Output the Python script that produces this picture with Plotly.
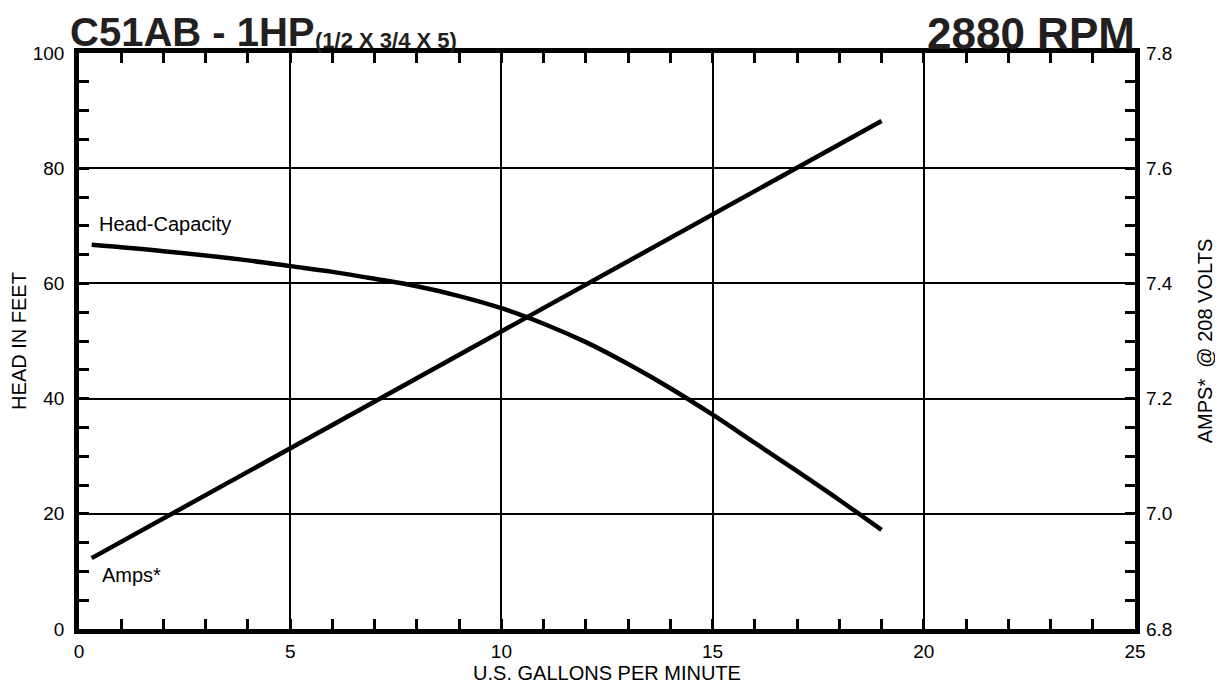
import plotly.graph_objects as go

# Data
head_gpm = [0.3, 2, 4, 5, 6, 7, 8, 9, 10, 11, 12, 13, 14, 15, 16, 17, 18, 19]
head_ft = [66.7, 65.6, 64.0, 63.0, 62.0, 60.8, 59.5, 57.8, 55.7, 53.0, 49.8, 46.0, 41.8, 37.2, 32.3, 27.4, 22.4, 17.2]

amps_gpm = [0.3, 5, 10, 15, 19]
amps = [6.923, 7.114, 7.317, 7.520, 7.682]

x_ticks = [0, 5, 10, 15, 20, 25]
y_ticks = [0, 20, 40, 60, 80, 100]
y2_ticks = [6.8, 7.0, 7.2, 7.4, 7.6, 7.8]

FONT = "Liberation Sans, Arial, Helvetica, sans-serif"
TICK = dict(family=FONT, size=19, color="black")
LAB = dict(family=FONT, size=20, color="black")

fig = go.Figure()
fig.add_trace(go.Scatter(x=head_gpm, y=head_ft, mode="lines", line=dict(color="black", width=4.5, shape="spline"),
                         name="Head-Capacity", showlegend=False, hoverinfo="skip"))
fig.add_trace(go.Scatter(x=amps_gpm, y=amps, mode="lines", line=dict(color="black", width=4.5),
                         name="Amps*", yaxis="y2", showlegend=False, hoverinfo="skip"))

axis_common = dict(
    showline=True, linecolor="black", linewidth=4.5,
    showgrid=True, gridcolor="black", gridwidth=2,
    ticks="inside", ticklen=10, tickwidth=2.5, tickcolor="black",
    tickfont=TICK, automargin=False,
    zeroline=False, mirror="allticks",
)

fig.update_layout(
    width=1215, height=678,
    margin=dict(l=71, r=88, t=45, b=57),
    paper_bgcolor="white", plot_bgcolor="white",
    font=dict(family=FONT, color="black"),
    xaxis=dict(
        range=[0, 25], tickvals=x_ticks, ticktext=[str(v) for v in x_ticks],
        minor=dict(dtick=1, ticks="inside", ticklen=10, tickwidth=2.5, tickcolor="black", showgrid=False),
        title=dict(text="U.S. GALLONS PER MINUTE", font=LAB, standoff=0),
        ticklabelstandoff=1,
        **axis_common,
    ),
    yaxis=dict(
        range=[0, 100], tickvals=y_ticks, ticktext=[str(v) for v in y_ticks],
        minor=dict(dtick=5, ticks="inside", ticklen=10, tickwidth=2.5, tickcolor="black", showgrid=False),
        title=dict(text="HEAD IN FEET", font=LAB, standoff=10),
        ticklabelstandoff=6,
        **axis_common,
    ),
    yaxis2=dict(
        range=[6.8, 7.8], tickvals=y2_ticks, ticktext=[f"{v:.1f}" for v in y2_ticks],
        overlaying="y", side="right", showgrid=False, showline=False, zeroline=False,
        ticks="", tickfont=TICK, automargin=False,
        ticklabelstandoff=10,
        title=dict(text="AMPS*  @ 208 VOLTS", font=LAB, standoff=26),
    ),
    annotations=[
        dict(text="<b>C51AB - 1HP</b>", xref="paper", yref="paper", x=-0.0104, y=1.036,
             xanchor="left", yanchor="middle", showarrow=False,
             font=dict(family=FONT, size=40, color="#231f20")),
        dict(text="<b>(1/2 X 3/4 X 5)</b>", xref="paper", yref="paper", x=0.2216, y=1.021,
             xanchor="left", yanchor="middle", showarrow=False,
             font=dict(family=FONT, size=22, color="#231f20")),
        dict(text="<b>2880 RPM</b>", xref="paper", yref="paper", x=1.002, y=1.034,
             xanchor="right", yanchor="middle", showarrow=False,
             font=dict(family=FONT, size=44, color="#231f20")),
        dict(text="Head-Capacity", xref="x", yref="y", x=0.43, y=70.3,
             xanchor="left", yanchor="middle", showarrow=False, font=LAB),
        dict(text="Amps*", xref="x", yref="y", x=0.5, y=9.4,
             xanchor="left", yanchor="middle", showarrow=False, font=LAB),
    ],
)

fig.write_html("out.html")
